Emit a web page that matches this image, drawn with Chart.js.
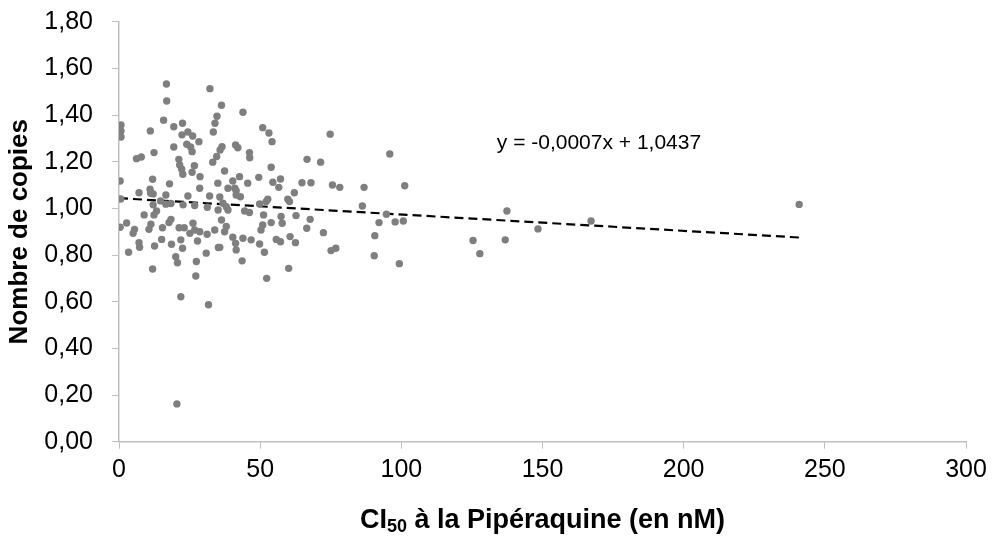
<!DOCTYPE html>
<html>
<head>
<meta charset="utf-8">
<script src="https://cdn.jsdelivr.net/npm/chart.js@4.4.0/dist/chart.umd.min.js"></script>
<style>
  html, body { margin: 0; padding: 0; background: #fff; }
</style>
</head>
<body>
<canvas id="chart" width="993" height="540"></canvas>
<script>
// CI50 values (nM)
const ic50 = [
    0.7, 0.7, 0.7, 0.4, 0.6, 0.4,
    16.8, 16.9, 15.8, 11.1, 19.4, 22.5, 22.3, 24.4, 26.1, 28.3, 24.0, 25.4, 25.9, 19.4,
    12.4, 6.2, 7.9, 21.2, 21.5, 22.2, 22.6, 26.7, 25.9, 28.7, 32.2, 36.3, 34.7, 34.0,
    33.4, 36.5, 35.8, 34.6, 33.2, 37.4, 35.0, 38.6, 11.9, 17.9, 7.1, 11.0, 12.1, 16.6,
    28.6, 24.4, 32.1, 35.7,
    8.9, 12.4, 13.3, 12.1, 14.7, 18.4, 16.6, 22.7, 26.8, 31.3, 35.1, 36.3, 38.0, 2.7,
    5.5, 5.0, 10.6, 11.3, 15.4, 17.7, 18.4, 21.3, 23.1, 26.2, 26.8, 25.1, 28.6, 31.2,
    33.9, 37.4, 7.1, 7.3, 3.4, 12.6, 15.1, 18.6, 21.9, 22.5, 27.8, 30.9, 35.2, 20.1,
    20.7, 11.9, 27.4, 27.2, 21.9, 31.7, 11.2, 20.5,
    43.9, 50.9, 53.1, 54.2, 74.8, 66.6, 71.4, 41.3, 42.1, 46.2, 46.3, 53.9, 42.7, 49.5,
    40.3, 45.6, 54.5, 57.2, 56.6, 64.8, 68.0, 75.6, 78.2, 41.0, 62.1, 41.5, 43.0, 52.7,
    59.8,
    41.5, 36.8, 38.6, 44.5, 46.2, 49.8, 52.1, 51.2, 53.9, 50.9, 50.3, 57.4, 57.8, 60.4,
    62.7, 67.7, 66.5, 72.4, 38.0, 40.3, 41.3, 41.5, 43.9, 46.8, 49.8, 51.5, 55.7, 57.2,
    60.6, 62.5, 35.7, 43.6, 60.1, 52.3, 75.1, 76.8,
    95.9, 86.8, 101.2, 86.2, 94.7, 92.1, 97.8, 100.7, 90.6, 90.4, 99.3,
    137.4, 167.2, 148.4, 125.4, 136.8, 127.8, 240.9
];

// copy numbers, same order
const copies = [
    1.357, 1.332, 1.306, 1.117, 1.040, 0.919,
    1.533, 1.460, 1.378, 1.332, 1.350, 1.365, 1.315, 1.327, 1.310, 1.286, 1.275, 1.263, 1.243, 1.263,
    1.239, 1.213, 1.220, 1.210, 1.186, 1.168, 1.146, 1.183, 1.155, 1.136, 1.513, 1.442, 1.395, 1.365,
    1.327, 1.264, 1.250, 1.222, 1.198, 1.160, 1.108, 1.086, 1.125, 1.105, 1.067, 1.082, 1.062, 1.057,
    1.086, 1.053, 1.053, 1.049,
    0.972, 0.972, 0.989, 1.015, 1.032, 1.021, 1.018, 1.015, 1.012, 1.005, 0.993, 0.950, 1.007, 0.937,
    0.910, 0.893, 0.910, 0.932, 0.917, 0.939, 0.953, 0.917, 0.917, 0.936, 0.907, 0.893, 0.900, 0.889,
    0.907, 0.900, 0.853, 0.833, 0.812, 0.839, 0.867, 0.846, 0.865, 0.829, 0.860, 0.808, 0.832, 0.793,
    0.767, 0.740, 0.772, 0.710, 0.621, 0.587, 1.065, 0.162,
    1.412, 1.346, 1.323, 1.286, 1.318, 1.210, 1.198, 1.272, 1.260, 1.239, 1.217, 1.176, 1.136, 1.133,
    1.117, 1.108, 1.112, 1.126, 1.090, 1.110, 1.110, 1.100, 1.090, 1.086, 1.067, 1.057, 1.050, 1.039,
    1.039,
    1.076, 1.022, 0.993, 0.989, 0.982, 1.019, 1.029, 0.972, 0.939, 0.929, 0.907, 0.965, 0.936, 1.029,
    0.969, 0.953, 0.915, 0.896, 0.922, 0.876, 0.850, 0.822, 0.872, 0.865, 0.847, 0.812, 0.867, 0.857,
    0.879, 0.853, 0.833, 0.775, 0.743, 0.700, 0.819, 0.829,
    1.233, 1.090, 1.097, 1.010, 0.975, 0.939, 0.942, 0.946, 0.883, 0.797, 0.763,
    0.989, 0.946, 0.912, 0.862, 0.865, 0.806, 1.017
];

// linear trend (Excel): y = -0,0007x + 1,0437
const trendSlope = -0.0007;
const trendIntercept = 1.0437;
const trendRange = [0, 240.9];
const trendLabel = 'y = -0,0007x + 1,0437';

const xTicks = [0, 50, 100, 150, 200, 250, 300];
const yTicks = [0, 0.2, 0.4, 0.6, 0.8, 1.0, 1.2, 1.4, 1.6, 1.8];

const points = ic50.map((x, i) => ({ x: x, y: copies[i] }));
const trendPoints = trendRange.map(x => ({ x: x, y: trendIntercept + trendSlope * x }));

const FONT = "'Liberation Sans', Arial, sans-serif";
const axisGrey = '#bfbfbf';

// equation label + x title with subscript
const extraText = {
    id: 'extraText',
    afterDraw(chart) {
        const ctx = chart.ctx;
        const xs = chart.scales.x;
        const ys = chart.scales.y;
        const area = chart.chartArea;
        ctx.save();
        ctx.fillStyle = '#000';
        ctx.textBaseline = 'middle';

        ctx.font = '21px ' + FONT;
        ctx.textAlign = 'center';
        ctx.fillText(trendLabel, xs.getPixelForValue(170), ys.getPixelForValue(1.28));

        // "CI50 à la Pipéraquine (en nM)"
        const big = 'bold 27px ' + FONT;
        const small = 'bold 18px ' + FONT;
        const p1 = 'CI', p2 = '50', p3 = ' à la Pipéraquine (en nM)';
        ctx.font = big;
        const w1 = ctx.measureText(p1).width, w3 = ctx.measureText(p3).width;
        ctx.font = small;
        const w2 = ctx.measureText(p2).width;
        let x = (area.left + area.right) / 2 - (w1 + w2 + w3) / 2;
        const y = 521;
        ctx.textAlign = 'left';
        ctx.font = big;
        ctx.fillText(p1, x, y);
        x += w1;
        ctx.font = small;
        ctx.fillText(p2, x, y + 6);
        x += w2;
        ctx.font = big;
        ctx.fillText(p3, x, y);
        ctx.restore();
    }
};

const ctx = document.getElementById('chart').getContext('2d');
new Chart(ctx, {
    type: 'scatter',
    data: {
        datasets: [
            {
                data: points,
                backgroundColor: '#7f7f7f',
                borderWidth: 0,
                pointRadius: 3.7,
                pointHoverRadius: 3.7,
            },
            {
                type: 'line',
                data: trendPoints,
                borderColor: '#000',
                borderWidth: 2.2,
                borderDash: [9, 5],
                pointRadius: 0,
                fill: false,
            },
        ],
    },
    options: {
        responsive: false,
        animation: false,
        layout: { padding: 0 },
        plugins: {
            legend: { display: false },
            tooltip: { enabled: false },
        },
        scales: {
            x: {
                type: 'linear',
                min: 0,
                max: 300,
                afterBuildTicks: (axis) => { axis.ticks = xTicks.map(v => ({ value: v })); },
                afterFit: (axis) => {
                    axis.height = 98.3;
                    axis.paddingLeft = 0;
                    axis.paddingRight = 27;
                },
                ticks: {
                    font: { family: FONT, size: 25 },
                    color: '#000',
                    padding: 6,
                },
                grid: { drawOnChartArea: false, color: axisGrey, tickLength: 7 },
                border: { color: axisGrey, width: 1.5 },
            },
            y: {
                min: 0,
                max: 1.8,
                afterBuildTicks: (axis) => { axis.ticks = yTicks.map(v => ({ value: v })); },
                afterFit: (axis) => {
                    axis.width = 119;
                    axis.paddingTop = 21.7;
                    axis.paddingBottom = 0;
                },
                ticks: {
                    font: { family: FONT, size: 25 },
                    color: '#000',
                    padding: 19,
                    callback: (v) => v.toFixed(2).replace('.', ','),
                },
                grid: { drawOnChartArea: false, color: axisGrey, tickLength: 7 },
                border: { color: axisGrey, width: 1.5 },
                title: {
                    display: true,
                    text: 'Nombre de copies',
                    color: '#000',
                    font: { family: FONT, size: 26, weight: 'bold' },
                    padding: { top: 4, bottom: 6 },
                },
            },
        },
    },
    plugins: [extraText],
});
</script>
</body>
</html>
